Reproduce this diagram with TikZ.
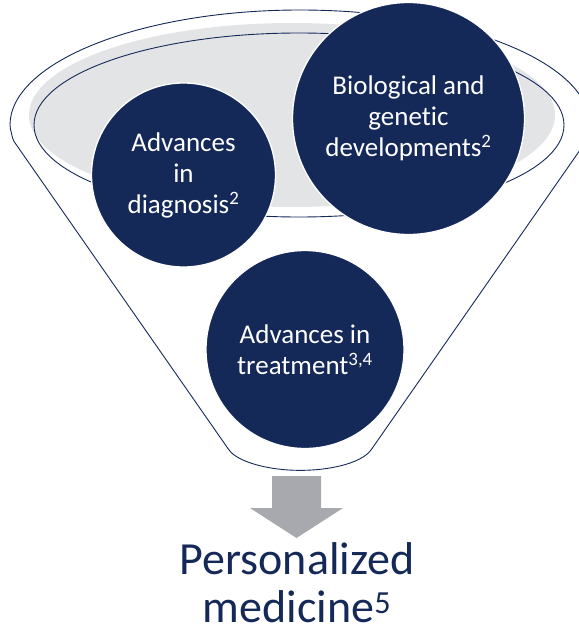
\documentclass[tikz,border=0pt]{standalone}
\usepackage{fontspec}
\setmainfont{Carlito}[Ligatures={NoCommon,NoRare}]
\begin{document}
\definecolor{navy}{RGB}{21,41,89}
\definecolor{rimgray}{RGB}{227,228,230}
\definecolor{arrowgray}{RGB}{167,169,174}
\begin{tikzpicture}[x=1pt,y=-1pt,
  outline/.style={draw=navy,line width=0.9pt},
  bubble/.style={circle,fill=navy,draw=white,line width=1.3pt,inner sep=0pt,
    text=white,align=center,font=\fontsize{27}{31}\selectfont},
  result/.style={text=navy,align=center,inner sep=0pt,font=\fontsize{46}{48}\selectfont}]
\useasboundingbox (0,0) rectangle (578,631);
% funnel body: upper rim arc, tapering sides and rounded spout
\path[outline,fill=white,rounded corners=2pt]
  (10,127) arc[start angle=180,end angle=0,x radius=290pt,y radius=117pt]
  -- (587,140) -- (371,450)
  arc[start angle=-18.8,end angle=-161.2,x radius=75pt,y radius=30pt]
  -- (13,140) -- cycle;
% inside of the rim
\fill[rimgray] (292,115) ellipse[x radius=263pt,y radius=92pt];
\draw[outline] (299,125) ellipse[x radius=265pt,y radius=92pt];
% the three contributing areas
\node[bubble,minimum size=184pt] (diag) at (183.5,175) {Advances\\in\\diagnosis\textsuperscript{2}};
\node[bubble,minimum size=232pt] (bio) at (408.5,118.5) {Biological and\\genetic\\developments\textsuperscript{2}};
\node[bubble,minimum size=198pt] (treat) at (305,349.5) {Advances in\\treatment\textsuperscript{3,4}};
% outcome
\node[result] (pm) at (297,583) {Personalized\\medicine\textsuperscript{5}};
% block arrow from the spout to the outcome
\fill[arrowgray] (272,476) -- (321,476) -- (321,508) -- (343,508)
  -- (296.5,538) -- (250,508) -- (272,508) -- cycle;
\end{tikzpicture}
\end{document}
